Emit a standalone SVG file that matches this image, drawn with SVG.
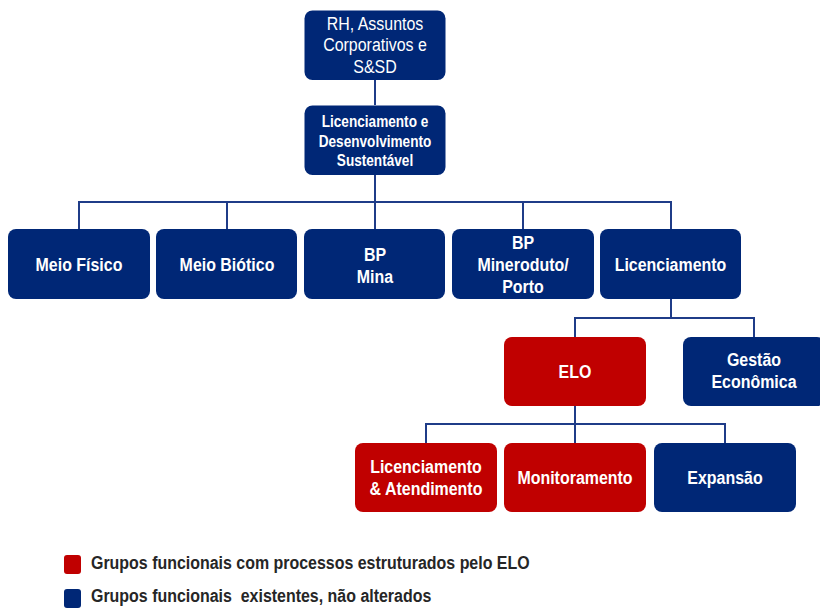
<svg xmlns="http://www.w3.org/2000/svg" width="820" height="608" viewBox="0 0 820 608">
  <style>
    .blue { fill: #002776; }
    .red { fill: #c00000; }
    .lbl { font-family: "Liberation Sans", Arial, sans-serif; font-weight: bold; font-size: 19px; fill: #ffffff; text-anchor: middle; }
    .reg { font-weight: normal; }
    .sm { font-size: 16.2px; }
    .link { fill: none; stroke: #1f3c88; stroke-width: 2; }
    .legend { font-family: "Liberation Sans", Arial, sans-serif; font-weight: bold; font-size: 19px; fill: #262626; }
  </style>

  <!-- connectors -->
  <g id="connectors">
    <path class="link" d="M375 80 V105"/>
    <path class="link" d="M375 175 V229"/>
    <path class="link" d="M79 229 V202 H671 V229"/>
    <path class="link" d="M227 202 V229"/>
    <path class="link" d="M523 202 V229"/>
    <path class="link" d="M671 299 V318"/>
    <path class="link" d="M575 337 V318 H754 V337"/>
    <path class="link" d="M575 406 V443"/>
    <path class="link" d="M426 443 V424 H725 V443"/>
  </g>

  <!-- labels use a condensed look: wide font squeezed horizontally -->
  <g id="n-rh">
    <rect class="blue" x="304.5" y="10.5" width="141" height="69.5" rx="8"/>
    <g transform="translate(375 0) scale(0.84 1)">
      <text class="lbl reg" x="0" y="30">RH, Assuntos</text>
      <text class="lbl reg" x="0" y="51.5">Corporativos e</text>
      <text class="lbl reg" x="0" y="73">S&amp;SD</text>
    </g>
  </g>

  <g id="n-lds">
    <rect class="blue" x="304.5" y="105.5" width="141" height="69.5" rx="8"/>
    <g transform="translate(375 0) scale(0.84 1)">
      <text class="lbl sm" x="0" y="127.5">Licenciamento e</text>
      <text class="lbl sm" x="0" y="147">Desenvolvimento</text>
      <text class="lbl sm" x="0" y="166.5">Sustentável</text>
    </g>
  </g>

  <g id="n-fisico">
    <rect class="blue" x="8" y="229" width="142" height="70" rx="8"/>
    <text class="lbl" transform="translate(79 0) scale(0.84 1)" x="0" y="271">Meio Físico</text>
  </g>

  <g id="n-biotico">
    <rect class="blue" x="156" y="229" width="141" height="70" rx="8"/>
    <text class="lbl" transform="translate(227 0) scale(0.84 1)" x="0" y="271">Meio Biótico</text>
  </g>

  <g id="n-bpmina">
    <rect class="blue" x="304" y="229" width="141" height="70" rx="8"/>
    <g transform="translate(375 0) scale(0.84 1)">
      <text class="lbl" x="0" y="261">BP</text>
      <text class="lbl" x="0" y="283">Mina</text>
    </g>
  </g>

  <g id="n-bpmineroduto">
    <rect class="blue" x="452" y="229" width="142" height="70" rx="8"/>
    <g transform="translate(523 0) scale(0.84 1)">
      <text class="lbl" x="0" y="249">BP</text>
      <text class="lbl" x="0" y="271">Mineroduto/</text>
      <text class="lbl" x="0" y="293">Porto</text>
    </g>
  </g>

  <g id="n-licenciamento">
    <rect class="blue" x="600" y="229" width="141" height="70" rx="8"/>
    <text class="lbl" transform="translate(670.5 0) scale(0.84 1)" x="0" y="271">Licenciamento</text>
  </g>

  <g id="n-elo">
    <rect class="red" x="504" y="337" width="142" height="69" rx="8"/>
    <text class="lbl" transform="translate(575 0) scale(0.84 1)" x="0" y="378.5">ELO</text>
  </g>

  <g id="n-gestao">
    <rect class="blue" x="683" y="337" width="142" height="69" rx="8"/>
    <g transform="translate(754 0) scale(0.84 1)">
      <text class="lbl" x="0" y="366.5">Gestão</text>
      <text class="lbl" x="0" y="388.5">Econômica</text>
    </g>
  </g>

  <g id="n-licatend">
    <rect class="red" x="355" y="443" width="142" height="69" rx="8"/>
    <g transform="translate(426 0) scale(0.84 1)">
      <text class="lbl" x="0" y="473.5">Licenciamento</text>
      <text class="lbl" x="0" y="495">&amp; Atendimento</text>
    </g>
  </g>

  <g id="n-monitoramento">
    <rect class="red" x="504" y="443" width="142" height="69" rx="8"/>
    <text class="lbl" transform="translate(575 0) scale(0.84 1)" x="0" y="484.5">Monitoramento</text>
  </g>

  <g id="n-expansao">
    <rect class="blue" x="654" y="443" width="142" height="69" rx="8"/>
    <text class="lbl" transform="translate(725 0) scale(0.84 1)" x="0" y="484.5">Expansão</text>
  </g>

  <!-- legend -->
  <g id="legend">
    <rect class="red" x="64" y="555" width="17" height="19" rx="3"/>
    <text class="legend" transform="translate(91 0) scale(0.84 1)" x="0" y="569.5">Grupos funcionais com processos estruturados pelo ELO</text>
    <rect class="blue" x="64" y="589" width="17" height="19" rx="3"/>
    <text class="legend" transform="translate(91 0) scale(0.84 1)" x="0" y="602.5" xml:space="preserve">Grupos funcionais  existentes, não alterados</text>
  </g>
</svg>
